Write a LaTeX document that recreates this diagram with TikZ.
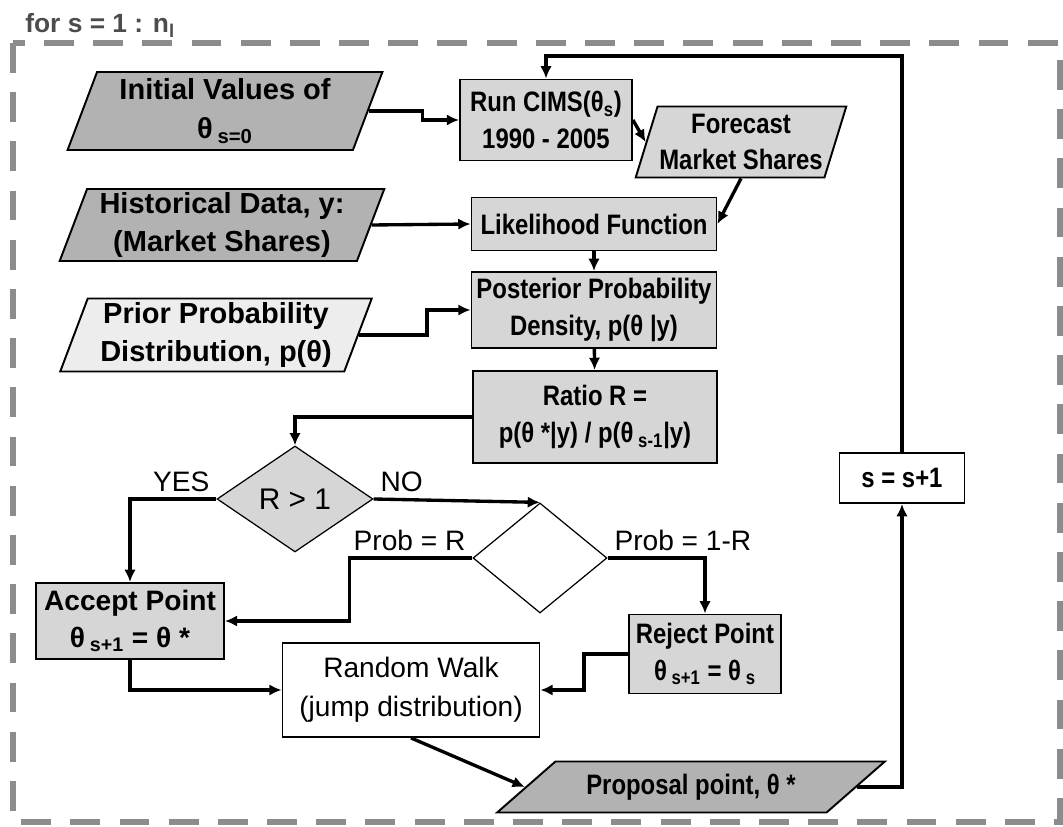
\documentclass[tikz,border=0pt]{standalone}
\usepackage{fontspec}
\setmainfont{Liberation Sans}
\newfontfamily\narrowsf{Liberation Sans}[FakeStretch=0.85]
\usetikzlibrary{shapes.geometric,arrows.meta}
\definecolor{darkfill}{gray}{0.70}
\definecolor{lightfill}{gray}{0.84}
\definecolor{palefill}{gray}{0.93}
\definecolor{framegray}{gray}{0.55}
\tikzset{
  box/.style={draw, line width=1.1pt, fill=lightfill, inner sep=1pt, align=center,
    font=\narrowsf\bfseries\fontsize{16}{21}\selectfont},
  plainbox/.style={draw, line width=1.1pt, fill=white, inner sep=1pt, align=center,
    font=\fontsize{16}{22}\selectfont},
  data/.style={draw, shape=trapezium, trapezium left angle=70, trapezium right angle=110,
    trapezium stretches=true, line width=1.1pt, inner sep=1pt, align=center,
    font=\bfseries\fontsize{16.5}{22}\selectfont},
  test/.style={draw, shape=diamond, line width=0.7pt, inner sep=0pt,
    font=\fontsize{17}{20}\selectfont},
  lbl/.style={inner sep=3pt, font=\fontsize{16}{18}\selectfont},
}
\begin{document}
\begin{tikzpicture}[x=0.02cm, y=-0.02cm]
  \useasboundingbox (0,0) rectangle (1063,827);
  % loop frame
  \draw[framegray, line width=3.4pt, dash pattern=on 17pt off 11pt] (13,43) rectangle (1060,822);
  \node[anchor=base west, inner sep=0pt, text=black!70, font=\bfseries\fontsize{15}{17}\selectfont] (title) at (25,33) {for s = 1 : n\textsubscript{l}};
  % inputs
  \node[data, fill=darkfill, minimum width=6.3cm, minimum height=1.56cm] (init) at (225,111) {Initial Values of\\θ\,\textsubscript{s=0}};
  \node[data, fill=darkfill, minimum width=6.5cm, minimum height=1.44cm] (hist) at (222,225) {Historical Data, y:\\(Market Shares)};
  \node[data, fill=palefill, minimum width=6.24cm, minimum height=1.46cm] (prior) at (216,335) {Prior Probability\\Distribution, p(θ)};
  \node[data, fill=lightfill, font=\narrowsf\bfseries\fontsize{16}{21}\selectfont, minimum width=4.06cm, minimum height=1.42cm] (fcast) at (741,142) {Forecast\\Market Shares};
  \node[data, fill=darkfill, font=\narrowsf\bfseries\fontsize{16}{21}\selectfont, trapezium left angle=33, trapezium right angle=147, minimum width=7.76cm, minimum height=1.02cm] (prop) at (691,787) {Proposal point, θ *};
  % steps
  \node[box, minimum width=3.44cm, minimum height=1.62cm] (cims) at (546,120) {Run CIMS(θ\textsubscript{s})\\1990 - 2005};
  \node[box, minimum width=4.9cm, minimum height=1.06cm] (like) at (594,224) {Likelihood Function};
  \node[box, minimum width=4.9cm, minimum height=1.52cm] (post) at (594,310) {Posterior Probability\\Density, p(θ |y)};
  \node[box, minimum width=4.88cm, minimum height=1.84cm] (ratio) at (595,417) {Ratio R =\\p(θ *|y) / p(θ\,\textsubscript{s-1}|y)};
  \node[test, fill=lightfill, minimum width=3.12cm, minimum height=2.12cm] (rgt) at (295,499) {R > 1};
  \node[test, fill=white, minimum width=2.68cm, minimum height=2.2cm] (prob) at (540,558) {};
  \node[box, font=\bfseries\fontsize{16}{21}\selectfont, minimum width=3.76cm, minimum height=1.52cm] (acc) at (130,621) {Accept Point\\θ\,\textsubscript{s+1} = θ *};
  \node[box, minimum width=3.04cm, minimum height=1.58cm] (rej) at (705,654) {Reject Point\\θ\,\textsubscript{s+1} = θ\,\textsubscript{s}};
  \node[plainbox, minimum width=5.14cm, minimum height=1.88cm] (walk) at (411,690) {Random Walk\\(jump distribution)};
  \node[box, fill=white, minimum width=2.5cm, minimum height=1cm] (inc) at (902,478) {s = s+1};
  \begin{scope}[line width=1.9pt, -{Latex[length=7pt,width=6.5pt]}]
    \draw (init.east) -- ++(54,0) |- (cims.west);
    \draw (inc.north) -- ++(0,-396) -| (cims.north);
    \draw (cims.east) to (fcast.west);
    \draw (fcast.south) to (like.east);
    \draw (hist.east) to (like.west);
    \draw (prior.east) -- ++(68,0) |- (post.west);
    \draw (like) to (post);
    \draw (post) to (ratio);
    \draw (ratio.west) -| (rgt.north);
    \draw (rgt.west) node[lbl, above left] {YES} -| (acc.north);
    \draw (rgt.east) node[lbl, above right] {NO} -- (prob.north);
    \draw (prob.west) node[lbl, above left] {Prob = R} -- ++(-123,0) |- (acc.east);
    \draw (prob.east) node[lbl, above right] {Prob = 1-R} -| (rej.north);
    \draw (acc.south) |- (walk.west);
    \draw (rej.west) -- ++(-44,0) |- (walk.east);
    \draw (walk.south) to (prop.west);
    \draw (prop.east) -| (inc.south);
  \end{scope}
\end{tikzpicture}
\end{document}
